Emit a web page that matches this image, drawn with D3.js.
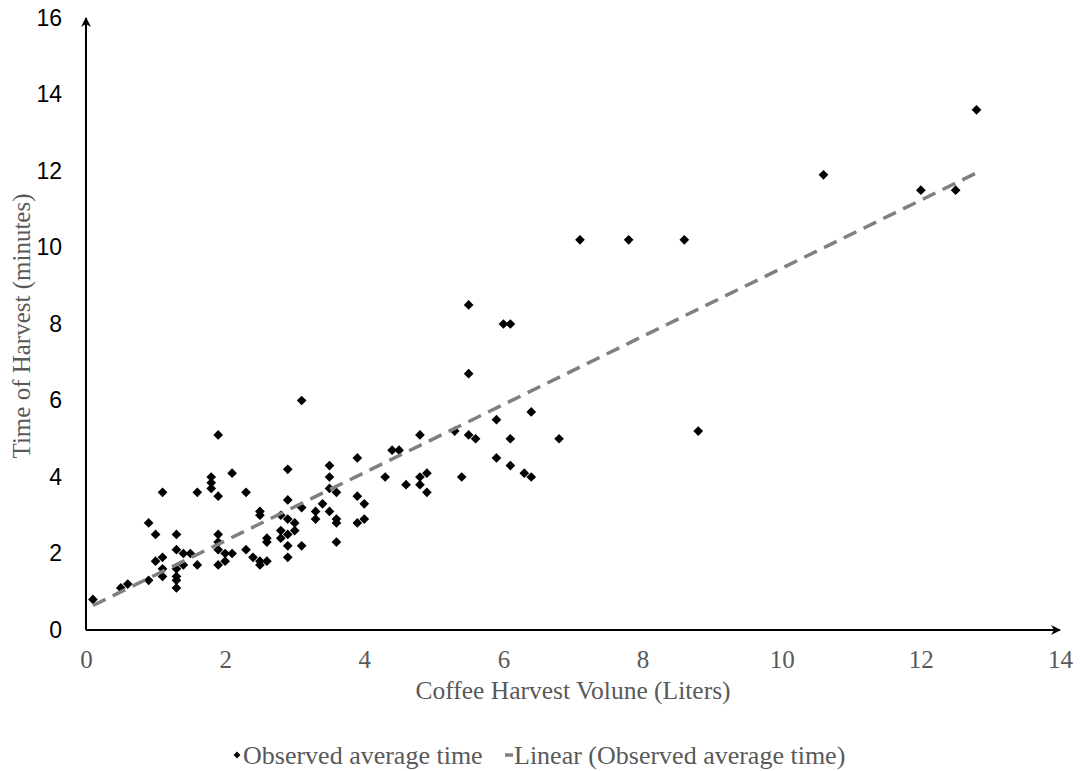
<!DOCTYPE html>
<html>
<head>
<meta charset="utf-8">
<script src="https://cdn.jsdelivr.net/npm/d3@7"></script>
<style>
  body { margin: 0; background: #fff; }
  svg { display: block; }
</style>
</head>
<body>
<svg id="chart"></svg>
<script>
// coffee harvest volume (liters) vs. observed time (minutes)
const harvestVolume = [
  0.1, 0.5, 0.6, 0.9, 0.9, 1.0, 1.0, 1.1, 1.1, 1.1, 1.1, 1.3, 1.3, 1.3, 1.3, 1.3, 1.3,
  1.4, 1.5, 1.4, 1.6, 1.6, 1.8, 1.8, 1.8, 1.9, 2.1, 2.3, 1.9, 1.9, 1.9, 1.9, 2.0, 2.0,
  2.1, 2.3, 2.4, 1.9, 2.5, 2.5, 2.5, 2.5, 2.6, 2.6, 2.6, 2.8, 2.8, 2.8, 2.9, 2.9, 2.9,
  2.9, 2.9, 2.9, 3.0, 3.0, 3.1, 3.1, 3.1, 3.3, 3.3, 3.4, 3.5, 3.5, 3.5, 3.5, 3.6, 3.6,
  3.6, 3.6, 3.9, 3.9, 3.9, 4.0, 4.0, 4.3, 4.4, 4.5, 4.6, 4.8, 4.8, 4.8, 4.9, 4.9, 5.3,
  5.4, 5.5, 5.5, 5.5, 5.6, 5.9, 5.9, 6.0, 6.1, 6.1, 6.1, 6.3, 6.4, 6.4, 6.8, 7.1, 7.8,
  8.6, 8.8, 10.6, 12.0, 12.5, 12.8
];
const harvestTime = [
  0.8, 1.1, 1.2, 1.3, 2.8, 2.5, 1.8, 3.6, 1.9, 1.6, 1.4, 2.5, 2.1, 1.6, 1.4, 1.3, 1.1,
  2.0, 2.0, 1.7, 1.7, 3.6, 4.0, 3.85, 3.7, 3.5, 4.1, 3.6, 2.5, 2.3, 2.1, 1.7, 2.0, 1.8,
  2.0, 2.1, 1.9, 5.1, 3.1, 3.0, 1.8, 1.7, 1.8, 2.4, 2.3, 3.0, 2.6, 2.4, 4.2, 3.4, 2.9,
  2.5, 2.2, 1.9, 2.8, 2.6, 6.0, 3.2, 2.2, 3.1, 2.9, 3.3, 4.3, 4.0, 3.7, 3.1, 3.6, 2.9,
  2.8, 2.3, 4.5, 3.5, 2.8, 3.3, 2.9, 4.0, 4.7, 4.7, 3.8, 5.1, 4.0, 3.8, 4.1, 3.6, 5.2,
  4.0, 8.5, 6.7, 5.1, 5.0, 5.5, 4.5, 8.0, 8.0, 5.0, 4.3, 4.1, 5.7, 4.0, 5.0, 10.2, 10.2,
  10.2, 5.2, 11.9, 11.5, 11.5, 13.6
];

// linear trendline end points as drawn
const trendX = [0.1, 12.8];
const trendY = [0.64, 11.95];

const xTicks = [0, 2, 4, 6, 8, 10, 12, 14];
const yTicks = [0, 2, 4, 6, 8, 10, 12, 14, 16];

const width = 1080;
const height = 771;
const margin = { top: 18, right: 20, bottom: 141, left: 86 };

const serif = "'Liberation Serif', 'Times New Roman', serif";
const grey = "#595959";

const svg = d3.select("#chart").attr("width", width).attr("height", height);

const x = d3.scaleLinear().domain([0, 14]).range([margin.left, width - margin.right]);
const y = d3.scaleLinear().domain([0, 16]).range([height - margin.bottom, margin.top]);

svg
  .append("defs")
  .append("marker")
  .attr("id", "arrow")
  .attr("viewBox", "0 0 10 10")
  .attr("refX", 9)
  .attr("refY", 5)
  .attr("markerWidth", 5)
  .attr("markerHeight", 5)
  .attr("orient", "auto")
  .append("path")
  .attr("d", "M0,0 L10,5 L0,10 L3,5 Z")
  .attr("fill", "#000");

// axes
const xAxis = d3.axisBottom(x).tickValues(xTicks).tickSize(0).tickPadding(20);
svg
  .append("g")
  .attr("transform", `translate(0,${y(0)})`)
  .call(xAxis)
  .call((g) => g.select(".domain").remove())
  .selectAll("text")
  .attr("fill", grey)
  .style("font-family", serif)
  .style("font-size", "25px");

const yAxis = d3.axisLeft(y).tickValues(yTicks).tickSize(0).tickPadding(24);
svg
  .append("g")
  .attr("transform", `translate(${x(0)},0)`)
  .call(yAxis)
  .call((g) => g.select(".domain").remove())
  .selectAll("text")
  .attr("fill", "#000")
  .style("font-family", "'Liberation Sans', Arial, sans-serif")
  .style("font-size", "23px");

svg
  .append("line")
  .attr("x1", x(0))
  .attr("y1", y(0))
  .attr("x2", x(14))
  .attr("y2", y(0))
  .attr("stroke", "#000")
  .attr("stroke-width", 2)
  .attr("marker-end", "url(#arrow)");

svg
  .append("line")
  .attr("x1", x(0))
  .attr("y1", y(0))
  .attr("x2", x(0))
  .attr("y2", y(16))
  .attr("stroke", "#000")
  .attr("stroke-width", 2)
  .attr("marker-end", "url(#arrow)");

// points
const diamond = d3.symbol().type(d3.symbolDiamond2).size(60);
svg
  .append("g")
  .selectAll("path")
  .data(harvestVolume.map((v, i) => [v, harvestTime[i]]))
  .join("path")
  .attr("transform", (d) => `translate(${x(d[0])},${y(d[1])})`)
  .attr("d", diamond)
  .attr("fill", "#000");

// trendline
svg
  .append("path")
  .attr("d", d3.line().x((d) => x(d[0])).y((d) => y(d[1]))(trendX.map((v, i) => [v, trendY[i]])))
  .attr("fill", "none")
  .attr("stroke", "#808080")
  .attr("stroke-width", 3.5)
  .attr("stroke-dasharray", "14,8");

// axis titles
svg
  .append("text")
  .attr("x", 573)
  .attr("y", 699)
  .attr("text-anchor", "middle")
  .attr("fill", grey)
  .style("font-family", serif)
  .style("font-size", "25.5px")
  .text("Coffee Harvest Volune (Liters)");

svg
  .append("text")
  .attr("transform", `translate(30,${y(8) + 2}) rotate(-90)`)
  .attr("text-anchor", "middle")
  .attr("fill", grey)
  .style("font-family", serif)
  .style("font-size", "25px")
  .text("Time of Harvest (minutes)");

// legend
const legend = svg.append("g").attr("transform", "translate(0,755)");
legend
  .append("path")
  .attr("transform", "translate(237,0)")
  .attr("d", d3.symbol().type(d3.symbolDiamond2).size(30))
  .attr("fill", "#000");
legend
  .append("text")
  .attr("x", 243)
  .attr("y", 9)
  .attr("fill", grey)
  .style("font-family", serif)
  .style("font-size", "26px")
  .text("Observed average time");
legend
  .append("line")
  .attr("x1", 505)
  .attr("x2", 513)
  .attr("y1", 0)
  .attr("y2", 0)
  .attr("stroke", "#808080")
  .attr("stroke-width", 3.5);
legend
  .append("text")
  .attr("x", 514)
  .attr("y", 9)
  .attr("fill", grey)
  .style("font-family", serif)
  .style("font-size", "26px")
  .text("Linear (Observed average time)");
</script>
</body>
</html>
